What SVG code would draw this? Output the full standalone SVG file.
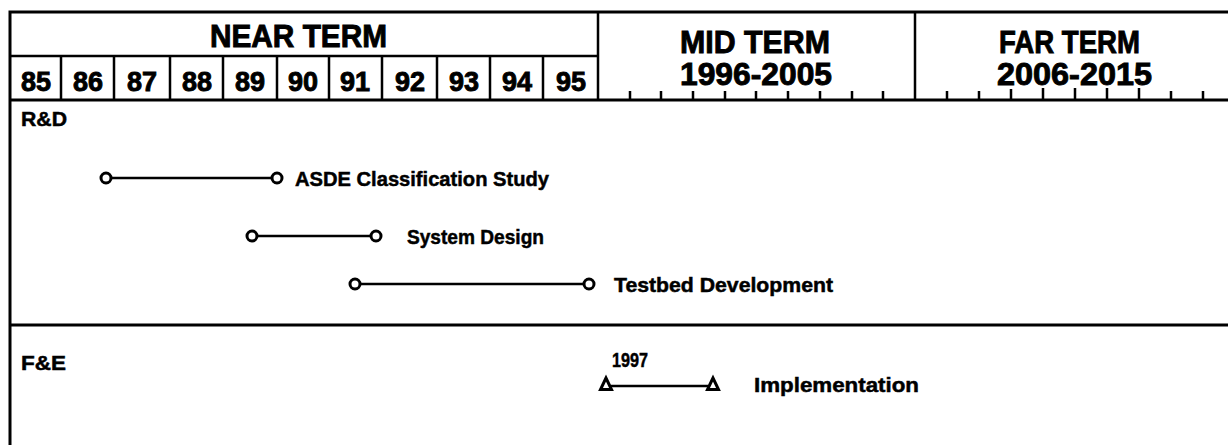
<svg xmlns="http://www.w3.org/2000/svg" width="1228" height="445" viewBox="0 0 1228 445">
<style>
text{font-family:"Liberation Sans",Arial,sans-serif;font-weight:bold;fill:#000;stroke:#000;stroke-width:0.5}
.hd{font-size:31px;stroke-width:0.9}
.yr{font-size:27px;text-anchor:middle;stroke-width:0.9}
.lb{font-size:21px}
.frame{stroke:#000;stroke-width:3;fill:none}
.div{stroke:#000;stroke-width:2.5;fill:none}
.tick{stroke:#000;stroke-width:2.5}
.bar{stroke:#000;stroke-width:2.6;fill:none}
.node{fill:#fff;stroke:#000;stroke-width:3}
</style>
<rect width="1228" height="445" fill="#fff"/>
<g id="frame">
<path class="frame" d="M10,445 V12 H1228"/>
<path class="div" d="M10,56 H598"/>
<path class="frame" d="M10,100 H1228"/>
<path class="div" d="M598,12 V100 M915,12 V100"/>
<path class="div" d="M61,56 V100 M114,56 V100 M170,56 V100 M223,56 V100 M277,56 V100 M329,56 V100 M382,56 V100 M437,56 V100 M490,56 V100 M543,56 V100"/>
<path class="frame" d="M10,325 H1228"/>
</g>
<g id="header">
<text class="hd" x="210" y="47" textLength="177" lengthAdjust="spacingAndGlyphs">NEAR TERM</text>
<text class="hd" x="680" y="53" textLength="150" lengthAdjust="spacingAndGlyphs">MID TERM</text>
<text class="hd" x="680" y="85" textLength="152" lengthAdjust="spacingAndGlyphs">1996-2005</text>
<text class="hd" x="999" y="53" textLength="141" lengthAdjust="spacingAndGlyphs">FAR TERM</text>
<text class="hd" x="997" y="85" textLength="155" lengthAdjust="spacingAndGlyphs">2006-2015</text>
<text class="yr" x="36" y="91">85</text>
<text class="yr" x="88" y="91">86</text>
<text class="yr" x="142" y="91">87</text>
<text class="yr" x="197" y="91">88</text>
<text class="yr" x="250" y="91">89</text>
<text class="yr" x="303" y="91">90</text>
<text class="yr" x="355" y="91">91</text>
<text class="yr" x="410" y="91">92</text>
<text class="yr" x="464" y="91">93</text>
<text class="yr" x="517" y="91">94</text>
<text class="yr" x="571" y="91">95</text>
</g>
<g id="ticks">
<path class="tick" d="M630,91 V100 M661,91 V100 M693,91 V100 M725,91 V100 M756,91 V100 M788,91 V100 M820,91 V100 M852,91 V100 M883,91 V100"/>
<path class="tick" d="M947,91 V100 M979,91 V100 M1011,89 V100 M1043,88 V100 M1075,88 V100 M1107,88 V100 M1139,88 V100 M1171,91 V100 M1203,91 V100"/>
</g>
<g id="rd-label"><text class="lb" x="21" y="126" textLength="46" lengthAdjust="spacingAndGlyphs">R&amp;D</text></g>
<g id="fe-label"><text class="lb" x="21" y="370" textLength="45" lengthAdjust="spacingAndGlyphs">F&amp;E</text></g>
<g id="connectors">
<line class="bar" x1="111" y1="178" x2="272" y2="178"/>
<line class="bar" x1="257" y1="236" x2="371" y2="236"/>
<line class="bar" x1="360" y1="284" x2="584" y2="284"/>
<line class="bar" x1="611" y1="386" x2="708" y2="386"/>
</g>
<g id="asde">
<circle class="node" cx="106" cy="178" r="5"/>
<circle class="node" cx="277" cy="178" r="5"/>
<text class="lb" x="295" y="186" textLength="254" lengthAdjust="spacingAndGlyphs">ASDE Classification Study</text>
</g>
<g id="system-design">
<circle class="node" cx="252" cy="236" r="5"/>
<circle class="node" cx="376" cy="236" r="5"/>
<text class="lb" x="407" y="244" textLength="137" lengthAdjust="spacingAndGlyphs">System Design</text>
</g>
<g id="testbed">
<circle class="node" cx="355" cy="284" r="5"/>
<circle class="node" cx="589" cy="284" r="5"/>
<text class="lb" x="614" y="292" textLength="219" lengthAdjust="spacingAndGlyphs">Testbed Development</text>
</g>
<g id="implementation">
<text class="lb" x="612" y="367" textLength="36" lengthAdjust="spacingAndGlyphs">1997</text>
<polygon class="node" points="606,378 600.5,389.5 611.5,389.5"/>
<polygon class="node" points="713,378 707.5,389.5 718.5,389.5"/>
<text class="lb" x="754" y="392" textLength="165" lengthAdjust="spacingAndGlyphs">Implementation</text>
</g>
</svg>
